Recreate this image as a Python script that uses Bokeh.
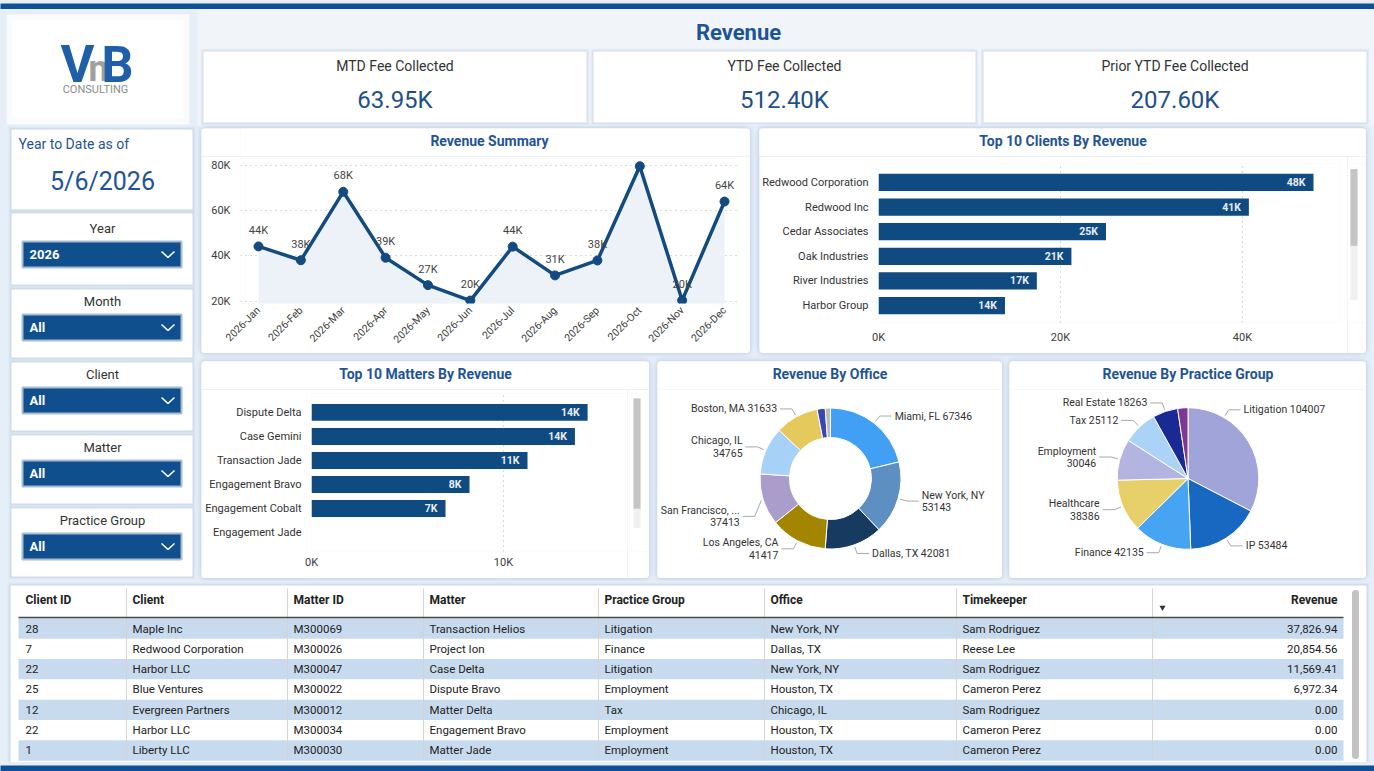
import math
from bokeh.plotting import figure
from bokeh.layouts import row, column
from bokeh.models import Range1d, FixedTicker, Spacer
from bokeh.core.properties import value
from bokeh.embed import file_html
from bokeh.resources import INLINE

# ---------------- data ----------------
report_title = "Revenue"
kpi_labels = ["MTD Fee Collected", "YTD Fee Collected", "Prior YTD Fee Collected"]
kpi_values = [63950, 512400, 207600]

as_of_caption = "Year to Date as of"
as_of_date = "5/6/2026"
slicer_labels = ["Year", "Month", "Client", "Matter", "Practice Group"]
slicer_values = ["2026", "All", "All", "All", "All"]

months = ["2026-Jan", "2026-Feb", "2026-Mar", "2026-Apr", "2026-May", "2026-Jun",
          "2026-Jul", "2026-Aug", "2026-Sep", "2026-Oct", "2026-Nov", "2026-Dec"]
monthly_revenue = [44200, 38100, 68300, 39200, 27100, 20300,
                   44100, 31400, 38000, 79600, 20400, 64000]
revenue_ticks = [20000, 40000, 60000, 80000]

top_clients = ["Redwood Corporation", "Redwood Inc", "Cedar Associates",
               "Oak Industries", "River Industries", "Harbor Group"]
client_revenue = [47800, 40700, 25000, 21200, 17400, 13900]
client_ticks = [0, 20000, 40000]

top_matters = ["Dispute Delta", "Case Gemini", "Transaction Jade",
               "Engagement Bravo", "Engagement Cobalt", "Engagement Jade"]
matter_revenue = [14380, 13720, 11250, 8230, 6980, 0]
matter_ticks = [0, 10000]

offices = ["Miami, FL", "New York, NY", "Dallas, TX", "Los Angeles, CA",
           "San Francisco, CA", "Chicago, IL", "Boston, MA", "Houston, TX", "Other"]
office_revenue = [67346, 53143, 42081, 41417, 37413, 34765, 31633, 5900, 3800]

practice_groups = ["Litigation", "IP", "Finance", "Healthcare", "Employment",
                   "Tax", "Real Estate", "Other"]
practice_revenue = [104007, 53484, 42135, 38386, 30046, 25112, 18263, 7500]

table_columns = ["Client ID", "Client", "Matter ID", "Matter", "Practice Group",
                 "Office", "Timekeeper", "Revenue"]
client_ids = [28, 7, 22, 25, 12, 22, 1]
client_names = ["Maple Inc", "Redwood Corporation", "Harbor LLC", "Blue Ventures",
                "Evergreen Partners", "Harbor LLC", "Liberty LLC"]
matter_ids = ["M300069", "M300026", "M300047", "M300022", "M300012", "M300034", "M300030"]
matter_names = ["Transaction Helios", "Project Ion", "Case Delta", "Dispute Bravo",
                "Matter Delta", "Engagement Bravo", "Matter Jade"]
row_practice = ["Litigation", "Finance", "Litigation", "Employment", "Tax",
                "Employment", "Employment"]
row_office = ["New York, NY", "Dallas, TX", "New York, NY", "Houston, TX",
              "Chicago, IL", "Houston, TX", "Houston, TX"]
row_timekeeper = ["Sam Rodriguez", "Reese Lee", "Sam Rodriguez", "Cameron Perez",
                  "Sam Rodriguez", "Cameron Perez", "Cameron Perez"]
row_revenue = [37826.94, 20854.56, 11569.41, 6972.34, 0.00, 0.00, 0.00]

# ---------------- styles ----------------
FONT = "Roboto"
PAGE_BG = "#e6eef7"
HEADER_BG = "#f1f5fa"
CARD = "#ffffff"
NAVY = "#1f5494"
BAR = "#0f4a80"
LINE = "#134a7f"
TXT = "#333333"
AXIS_TXT = "#3c3c3c"
BAND = "#0e5095"
CARD_STYLE = {"box-shadow": "0 0 5px rgba(110,145,190,0.45)", "border-radius": "4px",
              "overflow": "hidden"}

office_colors = ["#41a0f4", "#5d8fc3", "#163a60", "#a38500", "#aa9dcc",
                 "#a8d1f8", "#e5c95c", "#3a46b3", "#b9b9bf"]
practice_colors = ["#a0a4d8", "#1868c2", "#47a4f3", "#e7cf69", "#b3b4df",
                   "#abd3f8", "#1b2a93", "#7d3896"]


def k(v):
    return f"{v / 1000:.0f}K"


def canvas(x0, x1, y0, y1, bg=PAGE_BG):
    """Figure whose data space equals page pixels (y grows downward)."""
    return figure(width=x1 - x0, height=y1 - y0, x_range=Range1d(x0, x1),
                  y_range=Range1d(y1, y0), x_axis_type=None, y_axis_type=None,
                  toolbar_location=None, output_backend="svg", min_border=0,
                  background_fill_color=bg, border_fill_color=bg,
                  outline_line_color=None)


def txt(p, x, y, s, size, color=TXT, align="left", bold=False, baseline="middle"):
    p.text(x=[x], y=[y], text=[s], text_font=value(FONT), text_font_size=f"{size}px",
           text_color=color, text_align=align, text_baseline=baseline,
           text_font_style="bold" if bold else "normal")


def card(p, x0, x1, y0, y1):
    for d, a in ((3, 0.08), (2, 0.12), (1, 0.18)):
        p.quad(left=x0 - d, right=x1 + d, top=y0 - d, bottom=y1 + d,
               fill_color="#9fb8d6", fill_alpha=a, line_color=None)
    p.quad(left=x0, right=x1, top=y0, bottom=y1, fill_color=CARD, line_color=None)


def chart_fig(w, h, xr, yr, ml, mr, mt, mb):
    p = figure(width=w, height=h, x_range=xr, y_range=yr, toolbar_location=None,
               output_backend="svg", min_border_left=ml, min_border_right=mr,
               min_border_top=mt, min_border_bottom=mb, background_fill_color=CARD,
               border_fill_color=CARD, outline_line_color=None)
    for ax in p.axis:
        ax.axis_line_color = None
        ax.major_tick_line_color = None
        ax.minor_tick_line_color = None
        ax.major_tick_out = 0
        ax.major_tick_in = 0
        ax.minor_tick_out = 0
        ax.minor_tick_in = 0
        ax.major_label_text_font = FONT
        ax.major_label_text_font_size = "11px"
        ax.major_label_text_color = AXIS_TXT
    return p


def titled(title, x0, x1, y0, body):
    t = canvas(x0, x1, y0, y0 + 28, bg=CARD)
    txt(t, (x0 + x1) / 2, y0 + 12, title, 14, NAVY, "center", True)
    return column(t, body, styles=CARD_STYLE)


def scrollbar(x0, x1, y0, y1, tx0, tx1, ty0, ty1, thumb_end):
    s = canvas(x0, x1, y0, y1, bg=CARD)
    s.quad(left=tx0, right=tx1, top=ty0, bottom=ty1, fill_color="#f0f0f0", line_color=None)
    s.quad(left=tx0, right=tx1, top=ty0, bottom=thumb_end, fill_color="#c4c4c4", line_color=None)
    return s


# ---------------- top / bottom bands ----------------
top_bar = canvas(0, 1374, 0, 9, bg=BAND)
bottom_bar = canvas(0, 1374, 762, 771, bg=BAND)

# ---------------- left column: logo, date, slicers ----------------
left = canvas(0, 197, 9, 581)
left.quad(left=6, right=189, top=14, bottom=124, fill_color="#ffffff", fill_alpha=0.75, line_color=None)
left.quad(left=12, right=183, top=20, bottom=118, fill_color="#ffffff", fill_alpha=0.9, line_color=None)
txt(left, 77, 64, "V", 52, "#1f5fa8", "center", True)
txt(left, 98, 68, "n", 36, "#a0a0a0", "center", True)
txt(left, 117, 64, "B", 50, "#1f5fa8", "center", True)
txt(left, 95, 89, "CONSULTING", 11, "#8c8c8c", "center")

card(left, 11, 192, 129, 209)
txt(left, 18, 143, as_of_caption, 14, NAVY)
txt(left, 102, 181, as_of_date, 25, NAVY, "center")

slicer_tops = [213, 289, 362, 435, 508]
slicer_bottoms = [284, 357, 430, 503, 576]
for lab, val, t0, b0 in zip(slicer_labels, slicer_values, slicer_tops, slicer_bottoms):
    card(left, 11, 192, t0, b0)
    txt(left, 102, b0 - 56, lab, 13, TXT, "center")
    left.quad(left=22, right=181, top=b0 - 43, bottom=b0 - 17, fill_color="#0f4f8e",
              line_color="#a8bcd2", line_width=2)
    txt(left, 29, b0 - 30, val, 13, "#ffffff", "left", True)
    left.line([161, 167.5, 174], [b0 - 33, b0 - 27, b0 - 33], line_color="#ffffff", line_width=1.6)

# ---------------- header: title and KPI cards ----------------
header = canvas(197, 1374, 9, 126, bg=HEADER_BG)
txt(header, 738, 32, report_title, 22, NAVY, "center", True)
for lab, v, (a, b) in zip(kpi_labels, kpi_values, [(203, 586), (593, 975), (983, 1366)]):
    card(header, a, b, 51, 122)
    txt(header, (a + b) / 2, 65, lab, 14, TXT, "center")
    txt(header, (a + b) / 2, 99, f"{v / 1000:.2f}K", 24, "#1f4f8a", "center")

# ---------------- revenue summary (line + area) ----------------
xs = list(range(len(months)))
ps = chart_fig(549, 197, Range1d(-0.425, 11.33), Range1d(19000, 83000), 39, 12, 2, 50)
ps.varea(x=xs, y1=[ps.y_range.start] * len(xs), y2=monthly_revenue, fill_color="#edf2f8")
ps.line(xs, monthly_revenue, line_color=LINE, line_width=3.5)
ps.scatter(xs, monthly_revenue, size=9, fill_color=LINE, line_color=LINE)
peak = max(monthly_revenue)
shown = [i for i in xs if monthly_revenue[i] != peak]
ps.text(x=[xs[i] for i in shown], y=[monthly_revenue[i] for i in shown],
        text=[k(monthly_revenue[i]) for i in shown], y_offset=-16,
        text_font=value(FONT), text_font_size="11px", text_color="#444444",
        text_align="center", text_baseline="middle")
ps.xaxis.ticker = FixedTicker(ticks=xs)
ps.xaxis.major_label_overrides = {i: m for i, m in zip(xs, months)}
ps.xaxis.major_label_orientation = math.pi / 4
ps.xaxis.major_label_text_font_size = "10.5px"
ps.xaxis.major_label_standoff = 5
ps.yaxis.ticker = FixedTicker(ticks=revenue_ticks)
ps.yaxis.major_label_overrides = {t: k(t) for t in revenue_ticks}
ps.yaxis.major_label_standoff = 10
ps.xgrid.visible = False
ps.ygrid.grid_line_color = "#b8b8b8"
ps.ygrid.grid_line_dash = "1 4"
ps.ygrid.grid_line_width = 1.2
summary_card = titled("Revenue Summary", 201, 750, 128, ps)


# ---------------- horizontal bar charts ----------------
def bar_chart(names, vals, ticks, w, h, xmax, yr, ml, mr, mt, mb, x_standoff):
    n = len(names)
    pos = [n - 1 - i for i in range(n)]
    p = chart_fig(w, h, Range1d(0, xmax), yr, ml, mr, mt, mb)
    p.hbar(y=pos, left=0, right=vals, height=0.7, fill_color=BAR, line_color=None)
    lab = [i for i in range(n) if vals[i] > 0]
    p.text(x=[vals[i] for i in lab], y=[pos[i] for i in lab], text=[k(vals[i]) for i in lab],
           x_offset=-8, text_font=value(FONT), text_font_size="10.5px", text_font_style="bold",
           text_color="#e8eef6", text_align="right", text_baseline="middle")
    p.yaxis.ticker = FixedTicker(ticks=pos)
    p.yaxis.major_label_overrides = {pp: nm for pp, nm in zip(pos, names)}
    p.yaxis.major_label_standoff = 10
    p.yaxis.major_label_text_color = TXT
    p.xaxis.ticker = FixedTicker(ticks=ticks)
    p.xaxis.major_label_overrides = {t: k(t) for t in ticks}
    p.xaxis.major_label_standoff = x_standoff
    p.ygrid.visible = False
    p.xgrid.grid_line_color = "#b8b8b8"
    p.xgrid.grid_line_dash = "1 4"
    p.xgrid.grid_line_width = 1.2
    return p


pc = bar_chart(top_clients, client_revenue, client_ticks, 588, 197, 50770,
               Range1d(-0.69, 5.77), 119, 7, 7, 31, 8)
sc = scrollbar(1347, 1366, 156, 353, 1350, 1357, 163, 325, 258)
clients_card = titled("Top 10 Clients By Revenue", 759, 1366, 128, row(pc, sc))

pm = bar_chart(top_matters, matter_revenue, matter_ticks, 426, 189, 16354,
               Range1d(-0.79, 5.79), 110, 2, 4, 27, 4)
sm = scrollbar(627, 649, 389, 578, 633, 640, 395, 550, 527)
matters_card = titled("Top 10 Matters By Revenue", 201, 649, 361, row(pm, sm))


# ---------------- pie / donut charts ----------------
def radial(w, h, cx_off, cy_off, names, vals, colors, inner, outer, wrap, anchor, shift):
    # one data unit = one pixel; the centre sits at (0, 0)
    p = figure(width=w, height=h, x_range=Range1d(-cx_off, w - cx_off),
               y_range=Range1d(-(h - cy_off), cy_off), x_axis_type=None, y_axis_type=None,
               toolbar_location=None, output_backend="svg", min_border=0,
               background_fill_color=CARD, border_fill_color=CARD, outline_line_color=None)
    n = len(vals)
    total = sum(vals)
    fr = [v / total for v in vals]
    cum = [0.0]
    for f in fr:
        cum.append(cum[-1] + f)
    start = [math.pi / 2 - 2 * math.pi * cum[i + 1] for i in range(n)]
    end = [math.pi / 2 - 2 * math.pi * cum[i] for i in range(n)]
    if inner > 0:
        p.annular_wedge(x=[0] * n, y=[0] * n, inner_radius=inner, outer_radius=outer,
                        start_angle=start, end_angle=end, fill_color=colors,
                        line_color="#ffffff", line_width=1)
    else:
        p.wedge(x=[0] * n, y=[0] * n, radius=outer, start_angle=start, end_angle=end,
                fill_color=colors, line_color="#ffffff", line_width=1)
    lx, ly, tx, ty, tt, ta = [], [], [], [], [], []
    for i in range(n):
        if fr[i] < 0.04:
            continue
        a = anchor.get(names[i], (cum[i] + cum[i + 1]) / 2) * 2 * math.pi
        sx, sy = math.sin(a), math.cos(a)
        side = 1 if sx >= 0 else -1
        x0, y0 = (outer + 2) * sx, (outer + 2) * sy
        x1 = (outer + 9) * sx
        yl = (outer + 9) * sy + shift.get(names[i], 0)
        x2 = x1 + 12 * side
        lx.append([x0, x1, x2])
        ly.append([y0, yl, yl])
        nm = names[i] if len(names[i]) <= 16 else names[i][:15] + "..."
        align = "left" if side > 0 else "right"
        if names[i] in wrap:
            tx += [x2 + 3 * side, x2 + 3 * side]
            ty += [yl + 6, yl - 6]
            tt += [nm, str(vals[i])]
            ta += [align, align]
        else:
            tx.append(x2 + 3 * side)
            ty.append(yl)
            tt.append(f"{nm} {vals[i]}")
            ta.append(align)
    p.multi_line(xs=lx, ys=ly, line_color="#a8a8a8", line_width=1)
    p.text(x=tx, y=ty, text=tt, text_align=ta, text_baseline="middle",
           text_font=value(FONT), text_font_size="10.5px", text_color=TXT)
    return p


po = radial(345, 189, 173, 89, offices, office_revenue, office_colors, 41, 70.5,
            wrap={"New York, NY", "Los Angeles, CA", "San Francisco, CA", "Chicago, IL"},
            anchor={}, shift={"San Francisco, CA": -14})
office_card = titled("Revenue By Office", 657, 1002, 361, po)

pp = radial(357, 189, 178.5, 89, practice_groups, practice_revenue, practice_colors, 0, 70.8,
            wrap={"Healthcare", "Employment"}, anchor={"Litigation": 0.085}, shift={})
practice_card = titled("Revenue By Practice Group", 1009, 1366, 361, pp)

# ---------------- detail table ----------------
tbl = canvas(0, 1374, 581, 762)
card(tbl, 10, 1366, 585, 765)
col_x = [25, 132, 293, 429, 604, 770, 962]
sep_x = [126, 287, 423, 598, 764, 956, 1152]
row_h = 20.33
row_y = [628 + i * row_h for i in range(len(client_ids))]
for i, yc in enumerate(row_y):
    if i % 2 == 0:
        tbl.quad(left=18, right=1343, top=yc - row_h / 2, bottom=yc + row_h / 2,
                 fill_color="#c8dbee", line_color=None)
tbl.segment(x0=sep_x, y0=[588] * len(sep_x), x1=sep_x, y1=[760] * len(sep_x),
            line_color="#d4d4d4", line_width=1)
tbl.segment(x0=[18], y0=[617], x1=[1343], y1=[617], line_color="#4a4a4a", line_width=1.5)
tbl.text(x=col_x, y=[599] * len(col_x), text=table_columns[:-1], text_font=value(FONT),
         text_font_size="12px", text_font_style="bold", text_color="#222222",
         text_align="left", text_baseline="middle")
txt(tbl, 1337, 599, table_columns[-1], 12, "#222222", "right", True)
tbl.scatter(x=[1162], y=[607], marker="inverted_triangle", size=6, fill_color="#333333",
            line_color=None)
cells = [[str(c) for c in client_ids], client_names, matter_ids, matter_names,
         row_practice, row_office, row_timekeeper]
for cx, vals in zip(col_x, cells):
    tbl.text(x=[cx] * len(vals), y=row_y, text=vals, text_font=value(FONT),
             text_font_size="11.5px", text_color="#222222", text_align="left",
             text_baseline="middle")
tbl.text(x=[1337] * len(row_revenue), y=row_y, text=[f"{v:,.2f}" for v in row_revenue],
         text_font=value(FONT), text_font_size="11.5px", text_color="#222222",
         text_align="right", text_baseline="middle")
tbl.segment(x0=[1355], y0=[593], x1=[1355], y1=[755], line_color="#c2c2c2",
            line_width=7, line_cap="round")

# ---------------- page layout ----------------
row1 = row(Spacer(width=4, height=225), summary_card, Spacer(width=9, height=225),
           clients_card, Spacer(width=8, height=225))
row2 = row(Spacer(width=4, height=217), matters_card, Spacer(width=8, height=217),
           office_card, Spacer(width=7, height=217), practice_card, Spacer(width=8, height=217))
right = column(header, Spacer(width=1177, height=2), row1, Spacer(width=1177, height=8),
               row2, Spacer(width=1177, height=3))
middle = row(left, right)
page = column(top_bar, middle, tbl, bottom_bar, styles={"background-color": PAGE_BG})

open("out.html", "w").write(file_html(page, INLINE, title=report_title))
